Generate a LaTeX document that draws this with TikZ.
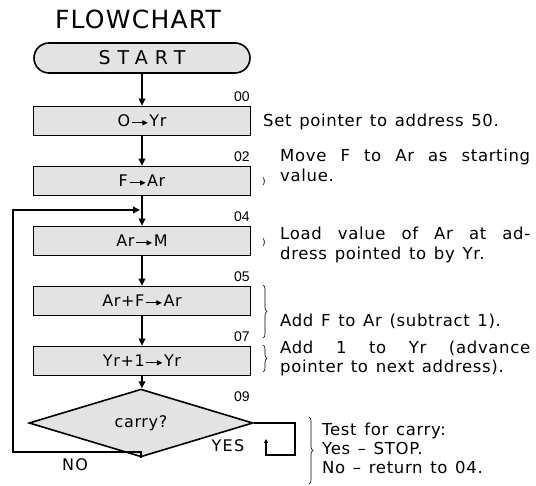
\documentclass[tikz,border=0pt]{standalone}
\usepackage{fontspec}
\setmainfont{DejaVu Sans}[LetterSpace=4,WordSpace={1.3}]
\newfontfamily\numfont{Liberation Sans}
\newfontfamily\titlefont{DejaVu Sans}[LetterSpace=5]
\newfontfamily\startfont{DejaVu Sans}[LetterSpace=37]
\newfontfamily\ynfont{DejaVu Sans}[LetterSpace=8]
\usetikzlibrary{arrows.meta,shapes.geometric,decorations.pathreplacing}
\newcommand{\flowarr}{\kern1pt\tikz[baseline=-4pt,x=1pt,y=1pt]\draw[line width=1.2pt,-{Triangle[length=5.5pt,width=5pt]}] (0,0) -- (16,0);\kern1pt}
\begin{document}
\begin{tikzpicture}[x=1pt,y=-1pt,
  box/.style={draw,line width=1.6pt,fill=black!11,minimum width=217pt,minimum height=29pt,inner sep=0pt,font=\fontsize{16}{18}\selectfont},
  conn/.style={line width=1.8pt,line join=miter,-{Triangle[length=7pt,width=6.5pt]}},
  addr/.style={font=\numfont\fontsize{14}{14}\selectfont,inner sep=0pt},
  note/.style={anchor=north west,inner sep=0pt,font=\fontsize{16.5}{20}\selectfont},
  brc/.style={decorate,decoration={brace,amplitude=4pt},line width=0.6pt}]
\useasboundingbox (0,0) rectangle (536,486);
\node[font=\titlefont\fontsize{25}{25}\selectfont,inner sep=0pt] (title) at (138,19) {FLOWCHART};
\node[box,rounded corners=15pt,minimum width=216pt,minimum height=30pt,font=\startfont\fontsize{19}{19}\selectfont] (start) at (142,58) {START};
\node[box] (b00) at (142,121) {O\flowarr Yr};
\node[box] (b02) at (142,181) {F\flowarr Ar};
\node[box] (b04) at (142,241) {Ar\flowarr M};
\node[box] (b05) at (142,301) {Ar+F\flowarr Ar};
\node[box] (b07) at (142,361) {Yr+1\flowarr Yr};
\node[diamond,draw,line width=1.6pt,fill=black!11,minimum width=224pt,minimum height=34pt,inner sep=0pt,font=\fontsize{16}{18}\selectfont] (dia) at (141,423) {carry?};
% address labels
\node[addr] (a00) at (242,97) {00};
\node[addr] (a02) at (242,157) {02};
\node[addr] (a04) at (242,217) {04};
\node[addr] (a05) at (242,277) {05};
\node[addr] (a07) at (242,337) {07};
\node[addr] (a09) at (242,397) {09};
% connectors
\draw[conn] (start) -- (b00);
\draw[conn] (b00) -- (b02);
\draw[conn] (b02) -- (b04);
\draw[conn] (b04) -- (b05);
\draw[conn] (b05) -- (b07);
\draw[conn] (b07.south) -- (b07.south |- dia.north);
\coordinate (nl) at (13,452);
\coordinate (nt) at (13,210);
\coordinate (ne) at (140,210);
\draw[conn] (dia.south) |- (nl) -- (nt) -- (ne);
\coordinate (y1) at (295,423);
\coordinate (y2) at (295,455);
\coordinate (y3) at (266,455);
\coordinate (y4) at (266,439);
\draw[line width=1.6pt,line join=miter,-{Triangle[length=4pt,width=4pt]}] (dia.east) -- (y1) -- (y2) -- (y3) -- (y4);
\node[font=\ynfont\fontsize{16}{16}\selectfont,inner sep=0pt] (no) at (75,465) {NO};
\node[font=\ynfont\fontsize{16}{16}\selectfont,inner sep=0pt] (yes) at (228,446) {YES};
% notes
\node[note] (n00) at (263,114) {Set pointer to address 50.};
\node[note,text width=250pt,align=justify] (n02) at (280,149) {Move F to Ar as starting\linebreak value.};
\node[note,text width=250pt,align=justify] (n04) at (280,227) {Load value of Ar at ad-\linebreak dress pointed to by Yr.};
\node[note] (n05) at (280,314) {Add F to Ar (subtract 1).};
\node[note,text width=250pt,align=justify,font=\fontsize{16.5}{19}\selectfont] (n07) at (280,341) {Add 1 to Yr (advance\linebreak pointer to next address).};
\node[note,align=left,font=\fontsize{16.5}{19}\selectfont] (n09) at (322,423) {Test for carry:\\Yes -- STOP.\\No -- return to 04.};
\node[font=\fontsize{9}{9}\selectfont,inner sep=0pt] (p02) at (264,182) {)};
\node[font=\fontsize{9}{9}\selectfont,inner sep=0pt] (p04) at (264,243) {)};
\draw[brc] (263,285) -- (263,338);
\draw[brc] (263,345) -- (263,372);
\draw[brc] (309,417) -- (309,484);
\end{tikzpicture}
\end{document}
